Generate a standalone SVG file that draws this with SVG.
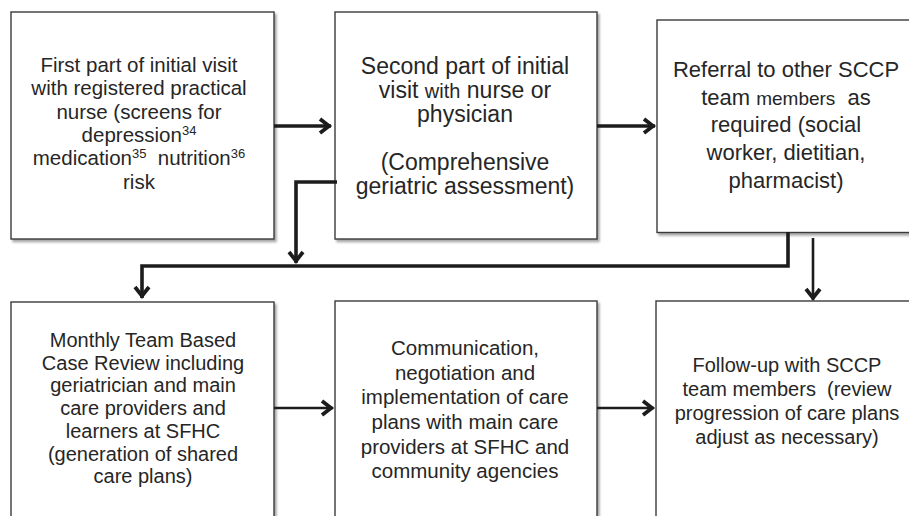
<svg xmlns="http://www.w3.org/2000/svg" width="909" height="516" viewBox="0 0 909 516">
<style>
.box{fill:#fff;stroke:#3a3a3a;stroke-width:1.4;filter:url(#sh)}
.t{font-family:"Liberation Sans",Arial,sans-serif;fill:#262626;text-anchor:middle}
.sup{font-size:13px}
.thick{fill:none;stroke:#1c1c1c;stroke-width:3.6}
.thin{fill:none;stroke:#1c1c1c;stroke-width:2.6}
</style>
<defs>
<filter id="sh" x="-5%" y="-5%" width="115%" height="115%">
<feDropShadow dx="2" dy="2.5" stdDeviation="1.2" flood-color="#000" flood-opacity="0.35"/>
</filter>
<marker id="ah" viewBox="-14 -10 16 20" refX="0" refY="0" markerWidth="16" markerHeight="20" orient="auto" markerUnits="userSpaceOnUse">
<path d="M-11,-7 L-2,0 L-11,7" fill="none" stroke="#1c1c1c" stroke-width="3.8"/>
</marker>
</defs>
<rect width="909" height="516" fill="#fff"/>

<g id="n1">
<rect class="box" x="11" y="12" width="263" height="227"/>
<text class="t" font-size="20.5"><tspan x="139" y="72">First part of initial visit</tspan><tspan x="139" y="95.3">with registered practical</tspan><tspan x="139" y="118.7">nurse (screens for</tspan><tspan x="139" y="142">depression<tspan class="sup" dy="-7">34</tspan></tspan><tspan x="139" y="165.3">medication<tspan class="sup" dy="-7">35</tspan><tspan dy="7">&#160; nutrition</tspan><tspan class="sup" dy="-7">36</tspan></tspan><tspan x="139" y="188.7">risk</tspan></text>
</g>

<g id="n2">
<rect class="box" x="335" y="12" width="262" height="227"/>
<text class="t" font-size="23"><tspan x="465" y="74">Second part of initial</tspan><tspan x="465" y="98">visit <tspan font-size="20">with</tspan> nurse or</tspan><tspan x="465" y="122">physician</tspan><tspan x="465" y="170">(Comprehensive</tspan><tspan x="465" y="193.5">geriatric assessment)</tspan></text>
</g>

<g id="n3">
<rect class="box" x="657" y="20" width="262" height="212.5"/>
<text class="t" font-size="22"><tspan x="786" y="77">Referral to other SCCP</tspan><tspan x="786" y="104.5">team <tspan font-size="19">members</tspan>&#160; as</tspan><tspan x="786" y="132">required (social</tspan><tspan x="786" y="160">worker, dietitian,</tspan><tspan x="786" y="188">pharmacist)</tspan></text>
</g>

<g id="n4">
<rect class="box" x="11" y="302" width="263" height="232"/>
<text class="t" font-size="20"><tspan x="143" y="347">Monthly Team Based</tspan><tspan x="143" y="369.7">Case Review including</tspan><tspan x="143" y="392.4">geriatrician and main</tspan><tspan x="143" y="415">care providers and</tspan><tspan x="143" y="437.8">learners at SFHC</tspan><tspan x="143" y="460.5">(generation of shared</tspan><tspan x="143" y="483">care plans)</tspan></text>
</g>

<g id="n5">
<rect class="box" x="335" y="301" width="262" height="232"/>
<text class="t" font-size="20.5"><tspan x="465" y="355">Communication,</tspan><tspan x="465" y="379.7">negotiation and</tspan><tspan x="465" y="404.3">implementation of care</tspan><tspan x="465" y="429">plans with main care</tspan><tspan x="465" y="453.6">providers at SFHC and</tspan><tspan x="465" y="478.3">community agencies</tspan></text>
</g>

<g id="n6">
<rect class="box" x="656" y="301" width="262" height="232"/>
<text class="t" font-size="20"><tspan x="787" y="371.7">Follow-up with SCCP</tspan><tspan x="787" y="395.7">team members&#160; (review</tspan><tspan x="787" y="419.7">progression of care plans</tspan><tspan x="787" y="443.7">adjust as necessary)</tspan></text>
</g>

<g id="connectors">
<path class="thick" d="M274,126 H331" marker-end="url(#ah)"/>
<path class="thick" d="M597,126 H655" marker-end="url(#ah)"/>
<path class="thick" d="M337,182 H296 V263" marker-end="url(#ah)"/>
<path class="thick" d="M788,232 V266 H142 V298" marker-end="url(#ah)"/>
<path class="thin" d="M813,238 V300" marker-end="url(#ah)"/>
<path class="thin" d="M274,408 H333" marker-end="url(#ah)"/>
<path class="thin" d="M597,408 H654" marker-end="url(#ah)"/>
</g>
</svg>
